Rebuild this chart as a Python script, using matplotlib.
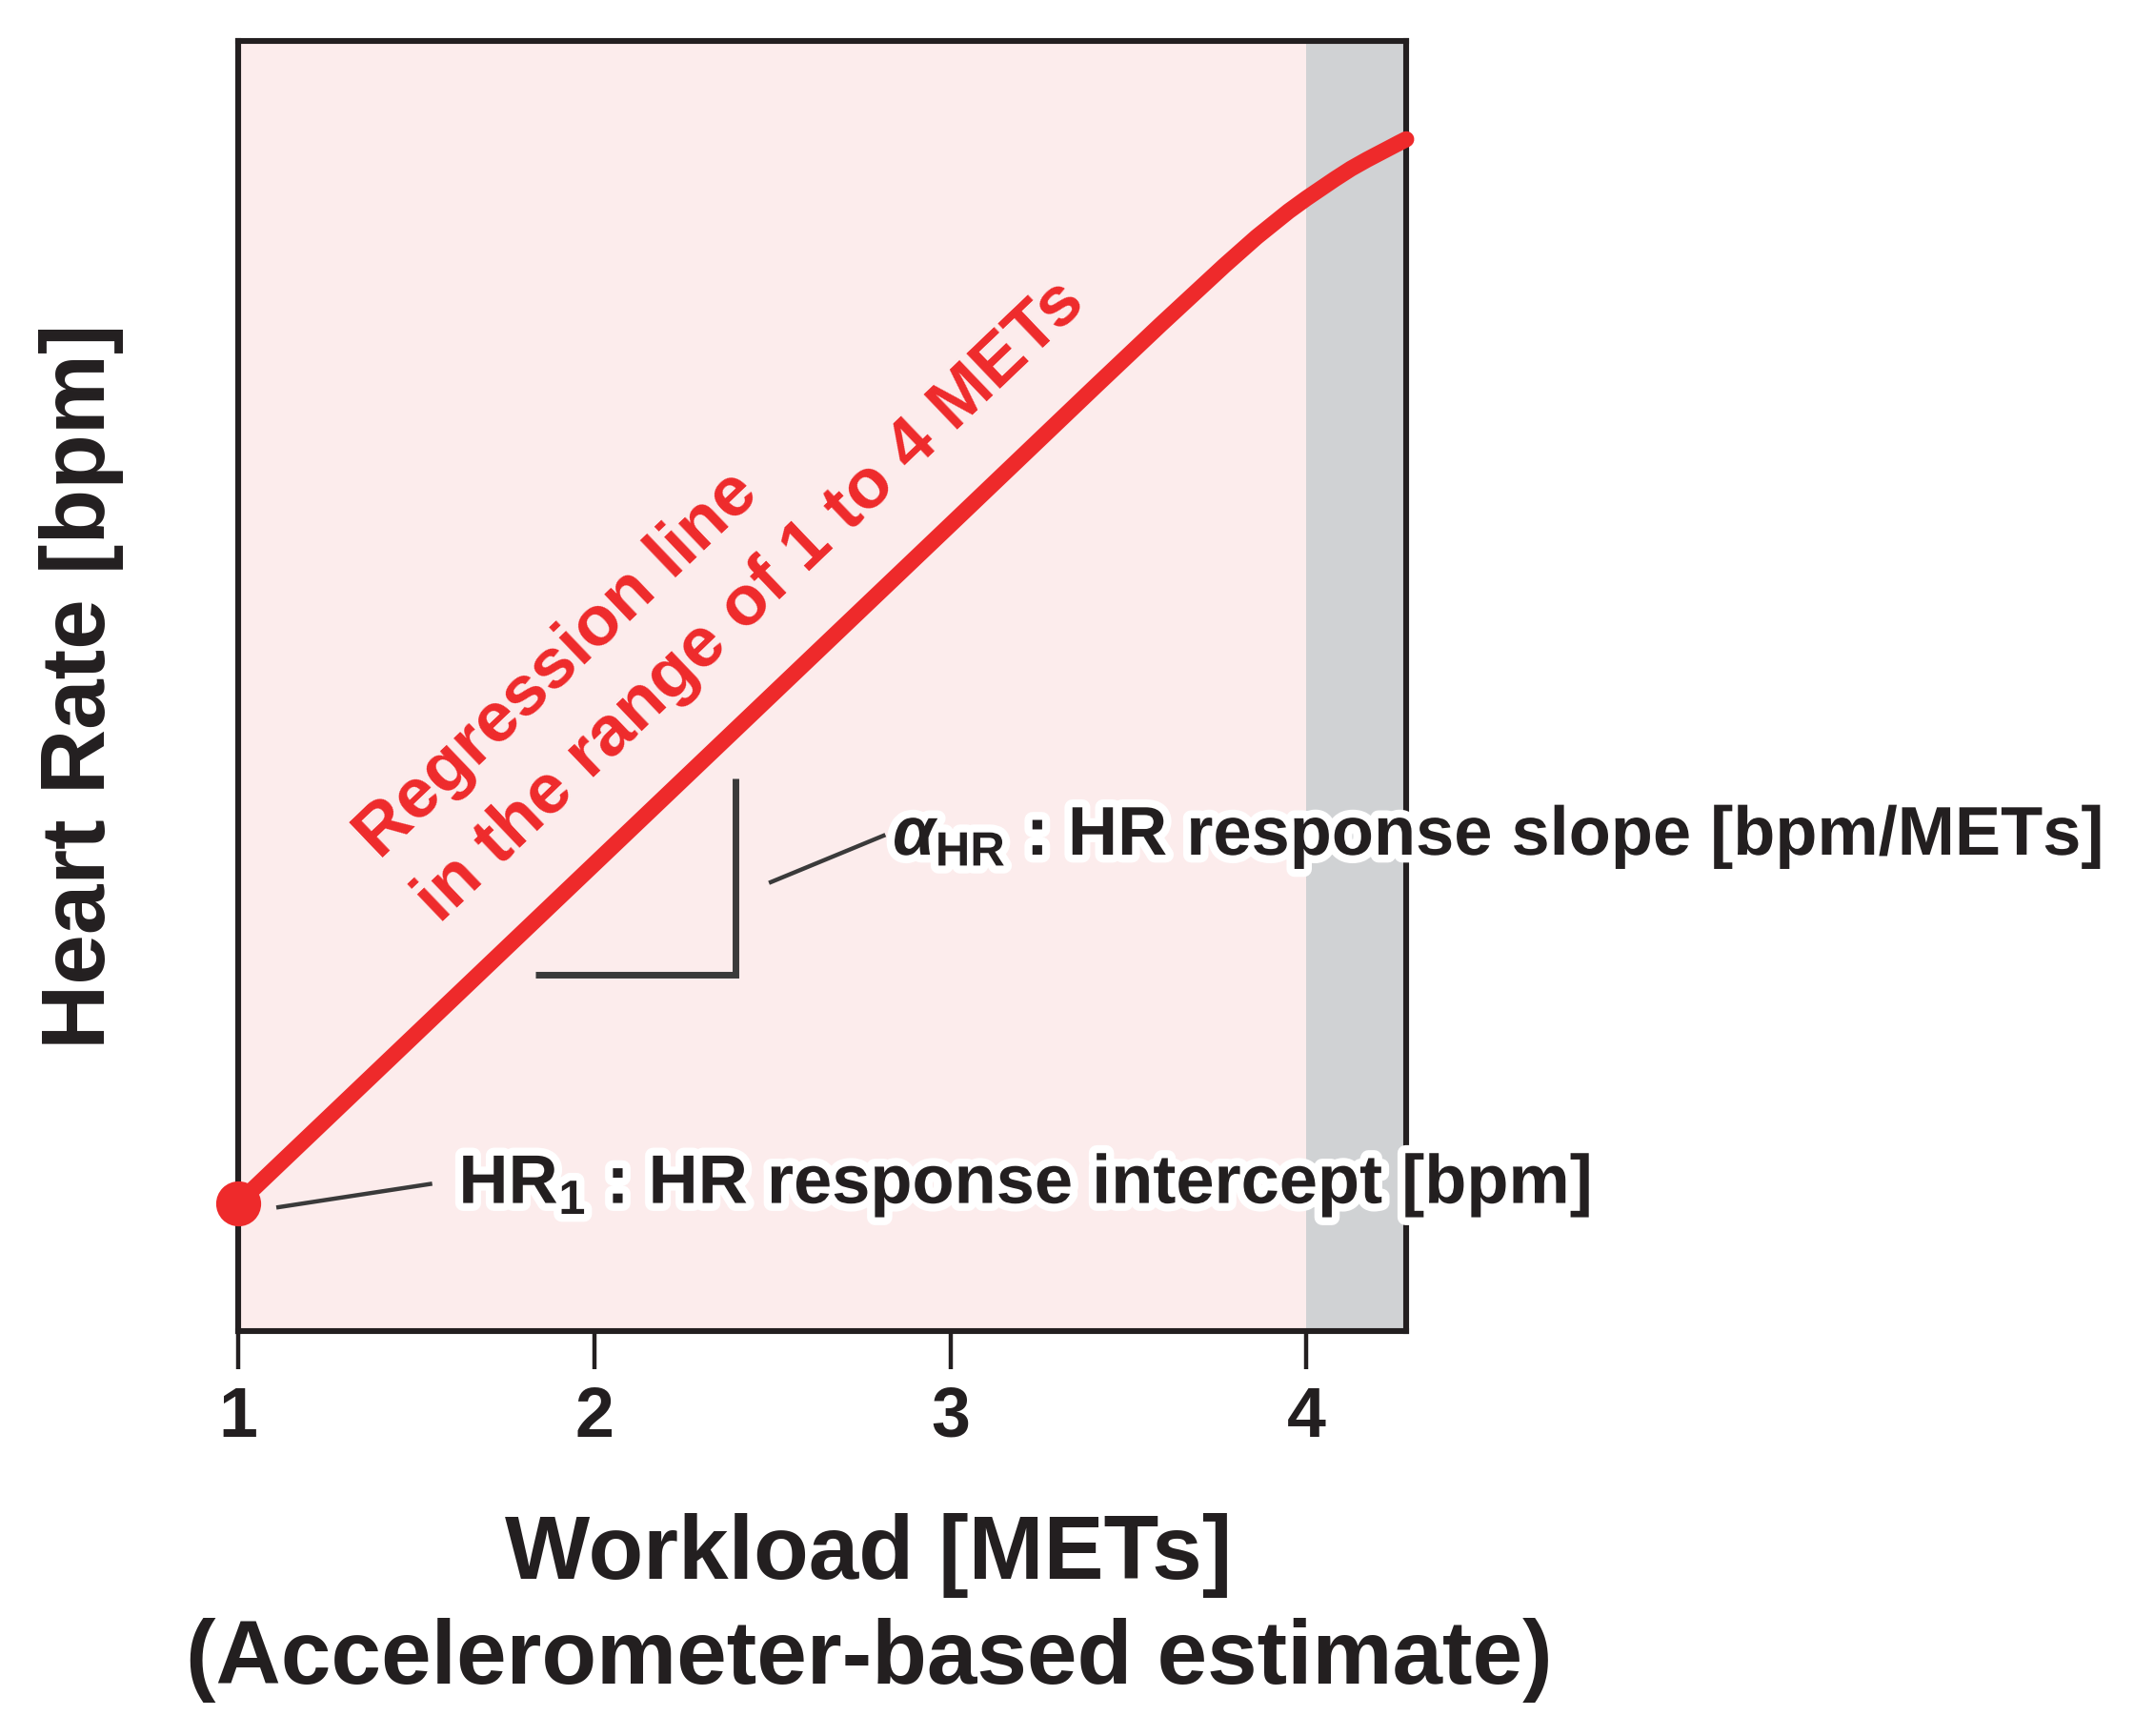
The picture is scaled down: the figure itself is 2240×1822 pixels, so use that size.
import matplotlib
matplotlib.use("Agg")
import matplotlib.pyplot as plt
import matplotlib.patheffects as pe

plt.rcParams['font.family'] = ['Liberation Sans', 'DejaVu Sans']
plt.rcParams['font.weight'] = 'bold'
plt.rcParams['mathtext.fontset'] = 'custom'
plt.rcParams['mathtext.rm'] = 'Liberation Sans:bold'
plt.rcParams['mathtext.bf'] = 'Liberation Sans:bold'
plt.rcParams['mathtext.it'] = 'Liberation Sans:italic:bold'

# ---- data ----
mets = [1.0, 2.0, 3.0, 3.41, 3.59, 3.77, 3.86, 3.95, 4.0, 4.04, 4.08, 4.125,
        4.17, 4.215, 4.26, 4.28]
heart_rate = [9.9, 36.2, 62.5, 73.3, 78.0, 82.6, 84.8, 86.8, 87.8, 88.55,
              89.3, 90.1, 90.8, 91.45, 92.1, 92.38]
x_ticks = [1, 2, 3, 4]
x_tick_labels = ["1", "2", "3", "4"]
x_range = [1.0, 4.28]
y_range = [0, 100]
shade_start = 4.0

TXT = '#231F20'
RED = '#EE2A2B'
PINK = '#FCECEC'
GRAY = '#D0D2D4'
DARK = '#3A3A3A'

fig = plt.figure(figsize=(11.2, 9.11), dpi=200)
ax = fig.add_axes([250/2240, 1 - 1397/1822, (1476-250)/2240, (1397-43)/1822])
ax.set_facecolor(PINK)
ax.set_xlim(*x_range)
ax.set_ylim(*y_range)
ax.axvspan(shade_start, x_range[1], color=GRAY, lw=0, zorder=0.5)

for s in ax.spines.values():
    s.set_linewidth(2.2)
    s.set_color(TXT)

ax.set_xticks(x_ticks)
ax.set_xticklabels(x_tick_labels)
ax.set_yticks([])
ax.tick_params(axis='x', direction='out', length=14.4, width=1.6, color=TXT,
               pad=6, labelsize=26.5, labelcolor=TXT)

# regression curve
ax.plot(mets, heart_rate, color=RED, lw=6.1, solid_capstyle='round',
        solid_joinstyle='round', clip_on=False, zorder=4)
ax.plot(mets[0], heart_rate[0], 'o', color=RED, ms=17, mec='none',
        clip_on=False, zorder=5)

# slope bracket
ax.plot([1.834, 2.397, 2.397], [27.6, 27.6, 42.8], color=DARK, lw=2.5,
        solid_capstyle='butt', solid_joinstyle='miter', zorder=3)

# leader lines
ax.plot([1.113, 1.539], [9.6, 11.4], color=DARK, lw=1.6, zorder=3)
ax.plot([2.496, 2.812], [34.8, 38.4], color=DARK, lw=1.6, zorder=3)

stroke = [pe.withStroke(linewidth=6, foreground='white')]
ax.text(1.619, 9.9, r"HR$_{\mathrm{1}}$ : HR response intercept [bpm]",
        fontsize=26, fontweight='bold', color=TXT, ha='left', va='baseline',
        path_effects=stroke, clip_on=False, zorder=6)
ax.text(2.838, 36.9, r"$\alpha_{\mathrm{HR}}$ : HR response slope [bpm/METs]",
        fontsize=26, fontweight='bold', color=TXT, ha='left', va='baseline',
        path_effects=stroke, clip_on=False, zorder=6)

# rotated red annotation
ax.text(1.397, 36.5, "Regression line", fontsize=26.8, fontweight='bold',
        color=RED, rotation=43.7, rotation_mode='anchor', ha='left',
        va='baseline', zorder=6)
ax.text(1.566, 31.5, "in the range of 1 to 4 METs", fontsize=26.8,
        fontweight='bold', color=RED, rotation=43.7, rotation_mode='anchor',
        ha='left', va='baseline', zorder=6)

# axis labels
fig.text(110/2240, 1 - 720/1822, "Heart Rate [bpm]", fontsize=34,
         fontweight='bold', color=TXT, rotation=90, rotation_mode='anchor',
         ha='center', va='baseline')
fig.text(912/2240, 1 - 1657/1822, "Workload [METs]", fontsize=34,
         fontweight='bold', color=TXT, ha='center', va='baseline')
fig.text(912/2240, 1 - 1767/1822, "(Accelerometer-based estimate)",
         fontsize=34, fontweight='bold', color=TXT, ha='center', va='baseline')

fig.savefig("out.png", dpi=200, facecolor='white')
